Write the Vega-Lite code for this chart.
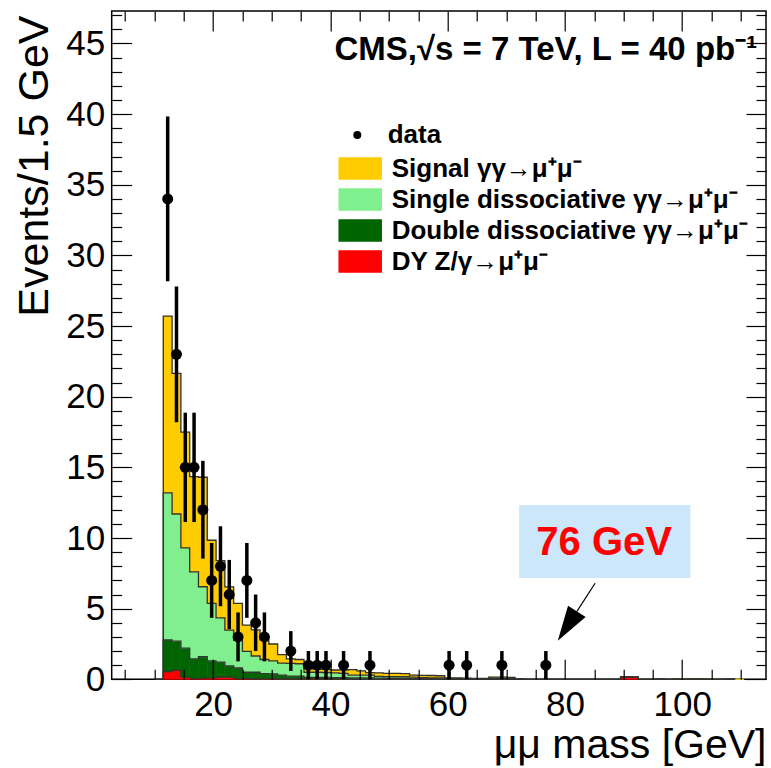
{
  "$schema": "https://vega.github.io/schema/vega-lite/v6.json",
  "width": 654.3,
  "height": 668.3,
  "autosize": {"type": "none"},
  "padding": {"left": 111.7, "top": 11, "right": 5, "bottom": 88.7},
  "background": "white",
  "config": {
    "view": {"stroke": "#000", "strokeWidth": 1.5},
    "font": "Liberation Sans",
    "axis": {
      "domain": false, "grid": false, "tickColor": "#000", "tickWidth": 1.2,
      "labelFont": "Liberation Sans", "labelFontSize": 35, "labelColor": "#000",
      "titleFont": "Liberation Sans", "titleFontWeight": "normal", "titleColor": "#000", "titleFontSize": 43,
      "labelOverlap": false, "labelFlush": false
    }
  },
  "datasets": {
    "hist": [
      {"lo": 10, "hi": 11.5, "s1_dy": 0, "s2_dd": 0, "s3_sd": 0, "s4_sig": 0},
      {"lo": 11.5, "hi": 13, "s1_dy": 0.55, "s2_dd": 2.23, "s3_sd": 10.42, "s4_sig": 12.5},
      {"lo": 13, "hi": 14.5, "s1_dy": 0.65, "s2_dd": 2.05, "s3_sd": 9.0, "s4_sig": 9.95},
      {"lo": 14.5, "hi": 16, "s1_dy": 0.15, "s2_dd": 2.05, "s3_sd": 7.1, "s4_sig": 8.2},
      {"lo": 16, "hi": 17.5, "s1_dy": 0.05, "s2_dd": 1.4, "s3_sd": 6.15, "s4_sig": 6.75},
      {"lo": 17.5, "hi": 19, "s1_dy": 0.08, "s2_dd": 1.52, "s3_sd": 4.95, "s4_sig": 7.75},
      {"lo": 19, "hi": 20.5, "s1_dy": 0.1, "s2_dd": 1.2, "s3_sd": 4.07, "s4_sig": 4.47},
      {"lo": 20.5, "hi": 22, "s1_dy": 0.15, "s2_dd": 1.07, "s3_sd": 3.13, "s4_sig": 4.05},
      {"lo": 22, "hi": 23.5, "s1_dy": 0.15, "s2_dd": 0.8, "s3_sd": 2.53, "s4_sig": 3.06},
      {"lo": 23.5, "hi": 25, "s1_dy": 0.05, "s2_dd": 0.75, "s3_sd": 1.95, "s4_sig": 2.62},
      {"lo": 25, "hi": 26.5, "s1_dy": 0.05, "s2_dd": 0.45, "s3_sd": 1.48, "s4_sig": 1.85},
      {"lo": 26.5, "hi": 28, "s1_dy": 0.03, "s2_dd": 0.47, "s3_sd": 1.15, "s4_sig": 1.85},
      {"lo": 28, "hi": 29.5, "s1_dy": 0.03, "s2_dd": 0.37, "s3_sd": 1.0, "s4_sig": 1.4},
      {"lo": 29.5, "hi": 31, "s1_dy": 0.03, "s2_dd": 0.35, "s3_sd": 0.92, "s4_sig": 1.2},
      {"lo": 31, "hi": 32.5, "s1_dy": 0.02, "s2_dd": 0.28, "s3_sd": 0.85, "s4_sig": 0.6},
      {"lo": 32.5, "hi": 34, "s1_dy": 0.02, "s2_dd": 0.21, "s3_sd": 0.9, "s4_sig": 0.32},
      {"lo": 34, "hi": 35.5, "s1_dy": 0.02, "s2_dd": 0.21, "s3_sd": 0.87, "s4_sig": 0.3},
      {"lo": 35.5, "hi": 37, "s1_dy": 0.02, "s2_dd": 0.12, "s3_sd": 0.36, "s4_sig": 0.25},
      {"lo": 37, "hi": 38.5, "s1_dy": 0.02, "s2_dd": 0.12, "s3_sd": 0.36, "s4_sig": 0.22},
      {"lo": 38.5, "hi": 40, "s1_dy": 0.02, "s2_dd": 0.12, "s3_sd": 0.34, "s4_sig": 0.22},
      {"lo": 40, "hi": 41.5, "s1_dy": 0.01, "s2_dd": 0.11, "s3_sd": 0.33, "s4_sig": 0.21},
      {"lo": 41.5, "hi": 43, "s1_dy": 0.01, "s2_dd": 0.11, "s3_sd": 0.3, "s4_sig": 0.24},
      {"lo": 43, "hi": 44.5, "s1_dy": 0, "s2_dd": 0.1, "s3_sd": 0.2, "s4_sig": 0.38},
      {"lo": 44.5, "hi": 46, "s1_dy": 0, "s2_dd": 0.1, "s3_sd": 0.2, "s4_sig": 0.29},
      {"lo": 46, "hi": 47.5, "s1_dy": 0, "s2_dd": 0.1, "s3_sd": 0.2, "s4_sig": 0.17},
      {"lo": 47.5, "hi": 49, "s1_dy": 0, "s2_dd": 0.08, "s3_sd": 0.12, "s4_sig": 0.25},
      {"lo": 49, "hi": 50.5, "s1_dy": 0, "s2_dd": 0.07, "s3_sd": 0.11, "s4_sig": 0.24},
      {"lo": 50.5, "hi": 52, "s1_dy": 0, "s2_dd": 0.06, "s3_sd": 0.12, "s4_sig": 0.24},
      {"lo": 52, "hi": 53.5, "s1_dy": 0, "s2_dd": 0.06, "s3_sd": 0.12, "s4_sig": 0.22},
      {"lo": 53.5, "hi": 55, "s1_dy": 0, "s2_dd": 0.05, "s3_sd": 0.1, "s4_sig": 0.15},
      {"lo": 55, "hi": 56.5, "s1_dy": 0, "s2_dd": 0.04, "s3_sd": 0.08, "s4_sig": 0.16},
      {"lo": 56.5, "hi": 58, "s1_dy": 0, "s2_dd": 0.04, "s3_sd": 0.06, "s4_sig": 0.17},
      {"lo": 58, "hi": 59.5, "s1_dy": 0, "s2_dd": 0.03, "s3_sd": 0.07, "s4_sig": 0.15},
      {"lo": 59.5, "hi": 61, "s1_dy": 0, "s2_dd": 0.02, "s3_sd": 0.03, "s4_sig": 0.05},
      {"lo": 61, "hi": 62.5, "s1_dy": 0, "s2_dd": 0.02, "s3_sd": 0.03, "s4_sig": 0.05},
      {"lo": 62.5, "hi": 64, "s1_dy": 0, "s2_dd": 0.02, "s3_sd": 0.02, "s4_sig": 0.04},
      {"lo": 64, "hi": 65.5, "s1_dy": 0, "s2_dd": 0.01, "s3_sd": 0.02, "s4_sig": 0.03},
      {"lo": 65.5, "hi": 67, "s1_dy": 0, "s2_dd": 0.01, "s3_sd": 0.02, "s4_sig": 0.03},
      {"lo": 67, "hi": 68.5, "s1_dy": 0, "s2_dd": 0.02, "s3_sd": 0.04, "s4_sig": 0.1},
      {"lo": 68.5, "hi": 70, "s1_dy": 0, "s2_dd": 0.02, "s3_sd": 0.04, "s4_sig": 0.09},
      {"lo": 70, "hi": 71.5, "s1_dy": 0, "s2_dd": 0.02, "s3_sd": 0.03, "s4_sig": 0.09},
      {"lo": 71.5, "hi": 73, "s1_dy": 0, "s2_dd": 0.01, "s3_sd": 0.01, "s4_sig": 0.02},
      {"lo": 73, "hi": 74.5, "s1_dy": 0, "s2_dd": 0, "s3_sd": 0, "s4_sig": 0},
      {"lo": 89.5, "hi": 91, "s1_dy": 0.18, "s2_dd": 0, "s3_sd": 0, "s4_sig": 0},
      {"lo": 91, "hi": 92.5, "s1_dy": 0.15, "s2_dd": 0, "s3_sd": 0, "s4_sig": 0},
      {"lo": 92.5, "hi": 94, "s1_dy": 0, "s2_dd": 0, "s3_sd": 0, "s4_sig": 0},
      {"lo": 95.5, "hi": 97, "s1_dy": 0, "s2_dd": 0, "s3_sd": 0, "s4_sig": 0.04},
      {"lo": 97, "hi": 98.5, "s1_dy": 0, "s2_dd": 0, "s3_sd": 0, "s4_sig": 0},
      {"lo": 98.5, "hi": 100, "s1_dy": 0, "s2_dd": 0, "s3_sd": 0, "s4_sig": 0.03},
      {"lo": 100, "hi": 101.5, "s1_dy": 0, "s2_dd": 0, "s3_sd": 0, "s4_sig": 0.03},
      {"lo": 101.5, "hi": 103, "s1_dy": 0, "s2_dd": 0, "s3_sd": 0, "s4_sig": 0.03},
      {"lo": 103, "hi": 104.5, "s1_dy": 0, "s2_dd": 0, "s3_sd": 0, "s4_sig": 0.03},
      {"lo": 104.5, "hi": 106, "s1_dy": 0, "s2_dd": 0, "s3_sd": 0, "s4_sig": 0},
      {"lo": 107.5, "hi": 109, "s1_dy": 0, "s2_dd": 0, "s3_sd": 0, "s4_sig": 0.03},
      {"lo": 109, "hi": 110.5, "s1_dy": 0, "s2_dd": 0, "s3_sd": 0, "s4_sig": 0}
    ],
    "pts": [
      {"m": 12.25, "n": 34, "elo": 28.17, "ehi": 39.83},
      {"m": 13.75, "n": 23, "elo": 18.2, "ehi": 27.8},
      {"m": 15.25, "n": 15, "elo": 11.13, "ehi": 18.87},
      {"m": 16.75, "n": 15, "elo": 11.13, "ehi": 18.87},
      {"m": 18.25, "n": 12, "elo": 8.54, "ehi": 15.46},
      {"m": 19.75, "n": 7, "elo": 4.35, "ehi": 9.65},
      {"m": 21.25, "n": 8, "elo": 5.17, "ehi": 10.83},
      {"m": 22.75, "n": 6, "elo": 3.55, "ehi": 8.45},
      {"m": 24.25, "n": 3, "elo": 1.27, "ehi": 4.73},
      {"m": 25.75, "n": 7, "elo": 4.35, "ehi": 9.65},
      {"m": 27.25, "n": 4, "elo": 2, "ehi": 6},
      {"m": 28.75, "n": 3, "elo": 1.27, "ehi": 4.73},
      {"m": 33.25, "n": 2, "elo": 0.59, "ehi": 3.41},
      {"m": 36.25, "n": 1, "elo": 0, "ehi": 2},
      {"m": 37.75, "n": 1, "elo": 0, "ehi": 2},
      {"m": 39.25, "n": 1, "elo": 0, "ehi": 2},
      {"m": 42.25, "n": 1, "elo": 0, "ehi": 2},
      {"m": 46.75, "n": 1, "elo": 0, "ehi": 2},
      {"m": 60.25, "n": 1, "elo": 0, "ehi": 2},
      {"m": 63.25, "n": 1, "elo": 0, "ehi": 2},
      {"m": 69.25, "n": 1, "elo": 0, "ehi": 2},
      {"m": 76.75, "n": 1, "elo": 0, "ehi": 2}
    ]
  },
  "layer": [
    {
      "data": {"name": "hist"},
      "transform": [
        {"fold": ["s1_dy", "s2_dd", "s3_sd", "s4_sig"], "as": ["comp", "v"]},
        {"stack": "v", "groupby": ["lo"], "sort": [{"field": "comp", "order": "ascending"}], "as": ["y0", "y1"]}
      ],
      "mark": {"type": "rect", "opacity": 1, "strokeWidth": 0.6},
      "encoding": {
        "x": {"field": "lo", "type": "quantitative",
          "scale": {"domain": [2.7, 114.3], "nice": false, "zero": false},
          "axis": {
            "orient": "bottom",
            "values": [5, 10, 15, 20, 25, 30, 35, 40, 45, 50, 55, 60, 65, 70, 75, 80, 85, 90, 95, 100, 105, 110],
            "tickSize": {"condition": {"test": "datum.value % 20 === 0", "value": -20}, "value": -10},
            "labelExpr": "datum.value % 20 === 0 ? datum.label : ''",
            "labelPadding": 28,
            "title": "μμ mass [GeV]",
            "titleFontSize": 41,
            "titleX": 654.3, "titleY": 78, "titleAlign": "right", "titleBaseline": "alphabetic",
            "zindex": 1
          }
        },
        "x2": {"field": "hi"},
        "y": {"field": "y0", "type": "quantitative",
          "scale": {"domain": [0, 47.3], "nice": false, "zero": true},
          "axis": {
            "orient": "left",
            "values": [0,1,2,3,4,5,6,7,8,9,10,11,12,13,14,15,16,17,18,19,20,21,22,23,24,25,26,27,28,29,30,31,32,33,34,35,36,37,38,39,40,41,42,43,44,45,46,47],
            "tickSize": {"condition": {"test": "datum.value % 5 === 0", "value": -20}, "value": -10},
            "labelExpr": "datum.value % 5 === 0 ? datum.label : ''",
            "labelPadding": 27,
            "title": "Events/1.5 GeV",
            "titleAngle": -90, "titleX": -77, "titleY": 4, "titleAlign": "right", "titleBaseline": "middle",
            "zindex": 1
          }
        },
        "y2": {"field": "y1"},
        "color": {"field": "comp", "type": "nominal",
          "scale": {"domain": ["s4_sig", "s3_sd", "s2_dd", "s1_dy"], "range": ["#FFCC00", "#80EF8E", "#006400", "#FF0000"]},
          "legend": {
            "orient": "none", "legendX": 235.5, "legendY": 144.5, "title": null, "padding": 0,
            "symbolType": "M-2,-1H2V1H-2Z", "symbolSize": 441, "symbolStrokeColor": "#333", "symbolStrokeWidth": 1.5, "symbolOpacity": 1,
            "labelFont": "Liberation Sans", "labelFontWeight": "bold", "labelFontSize": 26, "labelColor": "#000",
            "labelOffset": 18.5, "rowPadding": 3, "labelLimit": 700,
            "labelExpr": "{'s4_sig': 'Signal γγ→μ⁺μ⁻', 's3_sd': 'Single dissociative γγ→μ⁺μ⁻', 's2_dd': 'Double dissociative γγ→μ⁺μ⁻', 's1_dy': 'DY Z/γ→μ⁺μ⁻'}[datum.value]"
          }
        },
        "stroke": {"field": "comp", "type": "nominal",
          "scale": {"domain": ["s4_sig", "s3_sd", "s2_dd", "s1_dy"], "range": ["#FFCC00", "#80EF8E", "#006400", "#FF0000"]},
          "legend": null
        }
      }
    },
    {
      "data": {"name": "hist"},
      "transform": [
        {"fold": ["s1_dy", "s2_dd", "s3_sd", "s4_sig"], "as": ["comp", "v"]},
        {"stack": "v", "groupby": ["lo"], "sort": [{"field": "comp", "order": "ascending"}], "as": ["y0", "y1"]}
      ],
      "mark": {"type": "line", "interpolate": "step-after", "color": "#333", "strokeWidth": 1.3},
      "encoding": {
        "x": {"field": "lo", "type": "quantitative",
          "axis": {
            "orient": "top",
            "values": [5, 10, 15, 20, 25, 30, 35, 40, 45, 50, 55, 60, 65, 70, 75, 80, 85, 90, 95, 100, 105, 110],
            "tickSize": {"condition": {"test": "datum.value % 20 === 0", "value": -20}, "value": -10},
            "labels": false, "title": null, "zindex": 1
          }
        },
        "y": {"field": "y1", "type": "quantitative",
          "axis": {
            "orient": "right",
            "values": [0,1,2,3,4,5,6,7,8,9,10,11,12,13,14,15,16,17,18,19,20,21,22,23,24,25,26,27,28,29,30,31,32,33,34,35,36,37,38,39,40,41,42,43,44,45,46,47],
            "tickSize": {"condition": {"test": "datum.value % 5 === 0", "value": -20}, "value": -10},
            "labels": false, "title": null, "zindex": 1
          }
        },
        "detail": {"field": "comp"}
      }
    },
    {
      "data": {"name": "pts"},
      "mark": {"type": "rule", "color": "#000", "strokeWidth": 3.5},
      "encoding": {
        "x": {"field": "m", "type": "quantitative", "axis": null},
        "y": {"field": "elo", "type": "quantitative", "axis": null},
        "y2": {"field": "ehi"}
      }
    },
    {
      "data": {"name": "pts"},
      "mark": {"type": "point", "filled": true, "color": "#000", "size": 121, "opacity": 1},
      "encoding": {
        "x": {"field": "m", "type": "quantitative", "axis": null},
        "y": {"field": "n", "type": "quantitative", "axis": null},
        "shape": {"datum": "data", "type": "nominal", "scale": {"range": ["circle"]},
          "legend": {
            "orient": "none", "legendX": 232.6, "legendY": 111, "title": null, "padding": 0,
            "symbolSize": 64, "symbolFillColor": "#000", "symbolStrokeWidth": 0, "symbolOpacity": 1,
            "labelFont": "Liberation Sans", "labelFontWeight": "bold", "labelFontSize": 26, "labelColor": "#000",
            "labelOffset": 17.4
          }
        }
      }
    },
    {
      "data": {"values": [{}]},
      "mark": {"type": "rect", "fill": "#CCE6FA"},
      "encoding": {
        "x": {"datum": 72.2, "type": "quantitative", "axis": null},
        "x2": {"datum": 101.4},
        "y": {"datum": 7.17, "type": "quantitative", "axis": null},
        "y2": {"datum": 12.34}
      }
    },
    {
      "data": {"values": [{}]},
      "mark": {"type": "text", "text": "76 GeV", "font": "Liberation Sans", "fontWeight": "bold", "fontSize": 40, "color": "#FF0000", "align": "center", "baseline": "middle"},
      "encoding": {
        "x": {"datum": 86.7, "type": "quantitative", "axis": null},
        "y": {"datum": 9.65, "type": "quantitative", "axis": null}
      }
    },
    {
      "data": {"values": [{}]},
      "mark": {"type": "rule", "color": "#000", "strokeWidth": 1.2},
      "encoding": {
        "x": {"datum": 85.15, "type": "quantitative", "axis": null},
        "y": {"datum": 6.8, "type": "quantitative", "axis": null},
        "x2": {"datum": 82.05},
        "y2": {"datum": 4.81}
      }
    },
    {
      "data": {"values": [{}]},
      "mark": {"type": "point", "shape": "M0,-1L0.6,1L-0.6,1Z", "filled": true, "color": "#000", "opacity": 1, "size": 1225, "angle": 213},
      "encoding": {
        "x": {"datum": 80.41, "type": "quantitative", "axis": null},
        "y": {"datum": 3.77, "type": "quantitative", "axis": null}
      }
    },
    {
      "data": {"values": [{}]},
      "mark": {"type": "text", "text": "CMS,√s = 7 TeV, L = 40 pb⁻¹", "font": "Liberation Sans", "fontWeight": "bold", "fontSize": 33, "color": "#000", "align": "right", "baseline": "alphabetic"},
      "encoding": {
        "x": {"datum": 112.8, "type": "quantitative", "axis": null},
        "y": {"datum": 43.86, "type": "quantitative", "axis": null}
      }
    }
  ],
  "resolve": {"axis": {"x": "independent", "y": "independent"}}
}
